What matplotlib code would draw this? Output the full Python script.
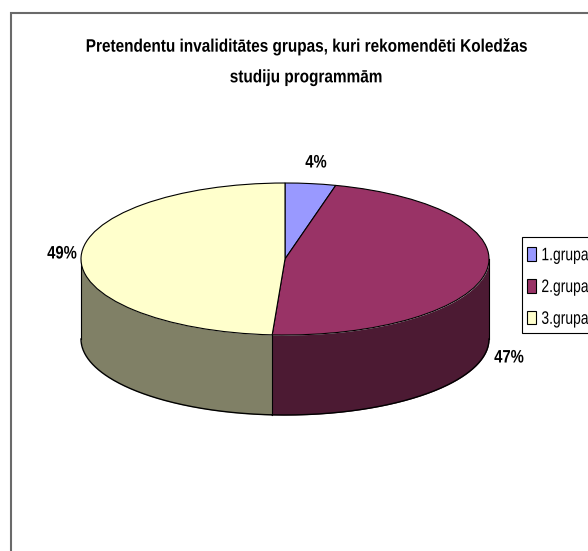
import numpy as np
import matplotlib
matplotlib.use("Agg")
import matplotlib.pyplot as plt
from matplotlib.patches import Rectangle, Patch
from matplotlib.patheffects import AbstractPathEffect
from matplotlib.transforms import Affine2D

title = "Pretendentu invaliditātes grupas, kuri rekomendēti Koledžas\nstudiju programmām"
categories = ["1.grupa", "2.grupa", "3.grupa"]
values = [4, 47, 49]
labels = ["4%", "47%", "49%"]
colors = ["#9999FF", "#993366", "#FFFFCC"]
side_colors = ["#4D4D80", "#4C1A33", "#808066"]

W, H = 588, 551
plt.rcParams["font.family"] = ["Liberation Sans", "DejaVu Sans"]

fig = plt.figure(figsize=(W / 100, H / 100), dpi=100, facecolor="white")


class Squeeze(AbstractPathEffect):
    """Narrow a text horizontally about a fixed x (the reference font is condensed)."""
    def __init__(self, sx, x0):
        super().__init__()
        self.sx, self.x0 = sx, x0

    def draw_path(self, renderer, gc, tpath, affine, rgbFace=None):
        t = affine + Affine2D().translate(-self.x0, 0).scale(self.sx, 1).translate(self.x0, 0)
        renderer.draw_path(gc, tpath, t, rgbFace)


def fx(p): return p / W
def fy(p): return 1 - p / H


# chart frame (runs off the right and bottom edges)
frame = Rectangle((fx(11), fy(600)), fx(640), (600 - 13) / H, transform=fig.transFigure,
                  fc="white", ec="#6a6a6a", lw=1.5, zorder=-5)
fig.add_artist(frame)

cx, cy, rx, ry, depth = 285, 259, 204, 76, 80
ax = fig.add_axes([fx(cx - rx), fy(cy + ry), 2 * rx / W, 2 * ry / H], zorder=1)
wedges, _ = ax.pie(values, startangle=90, counterclock=False, colors=colors, radius=1,
                   wedgeprops=dict(edgecolor="black", linewidth=0.8), frame=False)
ax.set_aspect("auto")
ax.set_xlim(-1, 1)
ax.set_ylim(-1, 1)
ax.axis("off")
for w in wedges:
    w.set_zorder(3)
    w.set_clip_on(False)

# side wall: the part of each slice that faces the viewer
d = depth / ry
edges = 90 - np.cumsum([0] + values) * 3.6
for i in range(len(values)):
    a0, a1 = edges[i + 1], edges[i]
    lo, hi = max(a0, -180), min(a1, 0)
    if hi <= lo:
        continue
    t = np.radians(np.linspace(lo, hi, 200))
    x = np.cos(t)
    y = np.sin(t)
    ax.fill_between(x, y, y - d, color=side_colors[i], lw=0, zorder=1, clip_on=False)
    ax.plot(x, y - d, color="black", lw=1.0, zorder=2, clip_on=False)
ax.plot([-1, -1], [0, -d], color="black", lw=0.8, zorder=2, clip_on=False)
ax.plot([1, 1], [0, -d], color="black", lw=0.8, zorder=2, clip_on=False)
bt = np.radians(edges[2])
ax.plot([np.cos(bt)] * 2, [np.sin(bt), np.sin(bt) - d], color="black", lw=0.8, zorder=2, clip_on=False)

fig.text(fx(306), fy(62.5), title, ha="center", va="center", fontsize=13, fontweight="bold",
         linespacing=2.05, color="black", path_effects=[Squeeze(0.85, 306)], zorder=5)

label_pos = [(316, 163), (509, 358), (62, 254)]
for s, (px, py) in zip(labels, label_pos):
    fig.text(fx(px), fy(py), s, ha="center", va="center", fontsize=13, fontweight="bold",
             color="black", path_effects=[Squeeze(0.82, px)], zorder=5)

# legend box runs off the right edge
box = Rectangle((fx(522), fy(333)), fx(100), (333 - 237) / H, transform=fig.transFigure,
                fc="white", ec="black", lw=0.8, zorder=4)
fig.add_artist(box)
handles = [Patch(facecolor=c, edgecolor="black", linewidth=0.8) for c in colors]
leg = fig.legend(handles, categories, loc="upper left", bbox_to_anchor=(fx(522), fy(242)),
                 bbox_transform=fig.transFigure, frameon=False,
                 fontsize=13, handlelength=0.52, handleheight=0.8,
                 handletextpad=0.28, labelspacing=0.81, borderaxespad=0, borderpad=0.28)
leg.set_zorder(5)
for txt in leg.get_texts():
    txt.set_path_effects([Squeeze(0.77, 541)])

fig.savefig("out.png", dpi=100, facecolor="white")
